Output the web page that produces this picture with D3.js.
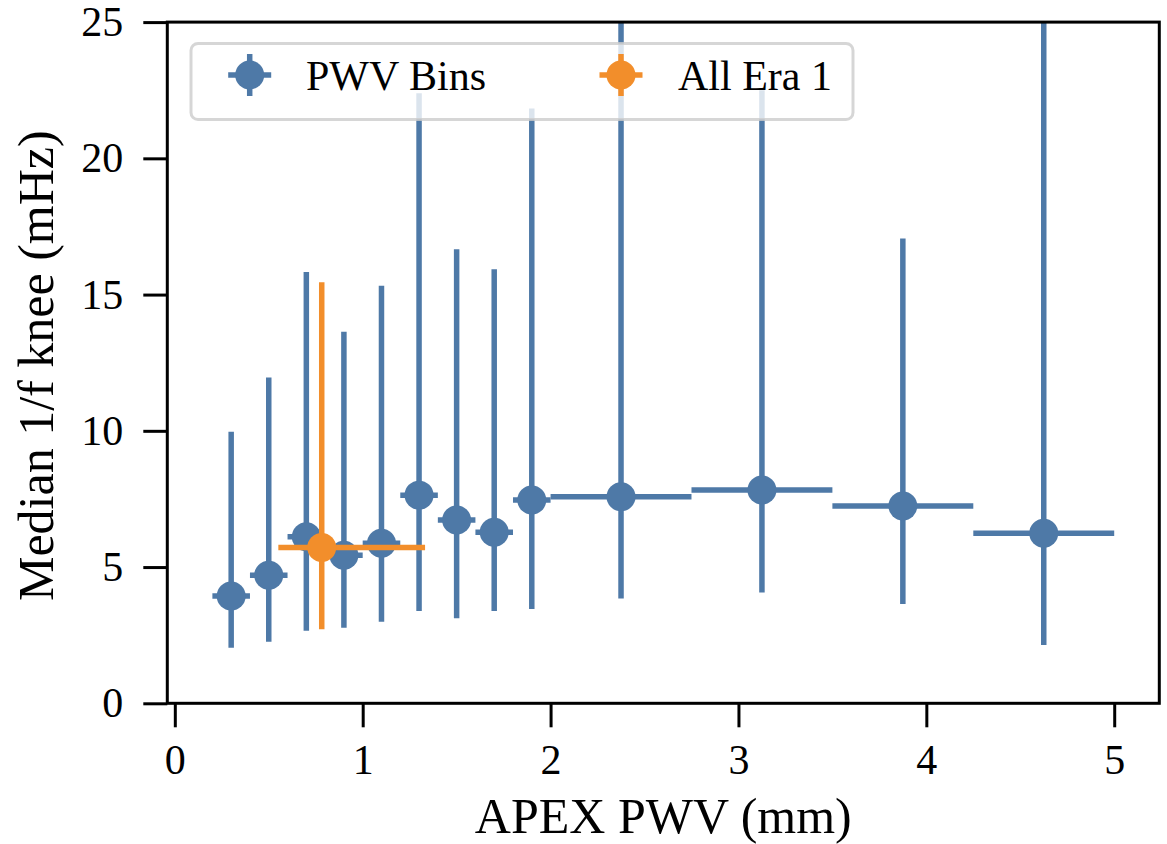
<!DOCTYPE html>
<html>
<head>
<meta charset="utf-8">
<script src="https://cdn.jsdelivr.net/npm/d3@7"></script>
<style>
  html, body { margin: 0; padding: 0; background: #fff; }
  svg { display: block; }
  text { font-family: "Liberation Serif", "DejaVu Serif", serif; fill: #000; }
</style>
</head>
<body>
<svg id="chart" width="1167" height="844"></svg>
<script>
// ---------- data ----------
const binCenters = [0.3, 0.5, 0.7, 0.9, 1.1, 1.3, 1.5, 1.7, 1.9, 2.375, 3.125, 3.875, 4.625];
const binLow     = [0.2, 0.4, 0.6, 0.8, 1.0, 1.2, 1.4, 1.6, 1.8, 2.0, 2.75, 3.5, 4.25];
const binHigh    = [0.4, 0.6, 0.8, 1.0, 1.2, 1.4, 1.6, 1.8, 2.0, 2.75, 3.5, 4.25, 5.0];
const medianKnee = [3.94, 4.70, 6.11, 5.43, 5.87, 7.64, 6.73, 6.28, 7.46, 7.58, 7.83, 7.24, 6.24];
const kneeLow    = [2.04, 2.26, 2.66, 2.77, 2.99, 3.39, 3.12, 3.39, 3.46, 3.85, 4.07, 3.64, 2.14];
const kneeHigh   = [9.97, 11.96, 15.83, 13.64, 15.32, 22.39, 16.66, 15.93, 21.83, 27.0, 22.5, 17.06, 27.0];

const allX = [0.782], allXLow = [0.551], allXHigh = [1.332];
const allY = [5.72], allYLow = [2.72], allYHigh = [15.45];

const xTicks = [0, 1, 2, 3, 4, 5];
const yTicks = [0, 5, 10, 15, 20, 25];
const seriesNames = ["PWV Bins", "All Era 1"];
const xLabel = "APEX PWV (mm)";
const yLabel = "Median 1/f knee (mHz)";

// ---------- layout ----------
const BLUE = "#4e79a7", ORANGE = "#f28e2b";
const L = 167.3, R = 1159.3, T = 22.1, B = 703.3;
const svg = d3.select("#chart");

const x = d3.scaleLinear().domain([-0.04, 5.24]).range([L, R]);
const y = d3.scaleLinear().domain([0, 25]).range([B, T]);

svg.append("defs").append("clipPath").attr("id", "clip")
  .append("rect").attr("x", L).attr("y", T - 0.5).attr("width", R - L).attr("height", B - T + 0.5);

const plot = svg.append("g").attr("clip-path", "url(#clip)");

function drawSeries(g, cx, xlo, xhi, cy, ylo, yhi, color) {
  const data = cx.map((d, i) => ({x: d, xl: xlo[i], xh: xhi[i], y: cy[i], yl: ylo[i], yh: yhi[i]}));
  const s = g.append("g");
  s.selectAll("line.v").data(data).join("line")
    .attr("x1", d => x(d.x)).attr("x2", d => x(d.x))
    .attr("y1", d => y(d.yl)).attr("y2", d => y(d.yh))
    .attr("stroke", color).attr("stroke-width", 5.5);
  s.selectAll("line.h").data(data).join("line")
    .attr("x1", d => x(d.xl)).attr("x2", d => x(d.xh))
    .attr("y1", d => y(d.y)).attr("y2", d => y(d.y))
    .attr("stroke", color).attr("stroke-width", 5.5);
  s.selectAll("circle").data(data).join("circle")
    .attr("cx", d => x(d.x)).attr("cy", d => y(d.y)).attr("r", 14.5)
    .attr("fill", color);
}
drawSeries(plot, binCenters, binLow, binHigh, medianKnee, kneeLow, kneeHigh, BLUE);
drawSeries(plot, allX, allXLow, allXHigh, allY, allYLow, allYHigh, ORANGE);

// ---------- axes ----------
const xAxis = svg.append("g").attr("transform", `translate(0,${B})`)
  .call(d3.axisBottom(x).tickValues(xTicks).tickFormat(d3.format("d")).tickSize(24).tickPadding(17));
const yAxis = svg.append("g").attr("transform", `translate(${L},0)`)
  .call(d3.axisLeft(y).tickValues(yTicks).tickFormat(d3.format("d")).tickSize(24).tickPadding(20));
[xAxis, yAxis].forEach(a => {
  a.select(".domain").remove();
  a.selectAll(".tick line").attr("stroke", "#000").attr("stroke-width", 3);
  a.selectAll(".tick text").style("font-family", "'Liberation Serif', serif").style("font-size", "42px").attr("fill", "#000");
});

// frame
svg.append("rect").attr("x", L).attr("y", T).attr("width", R - L).attr("height", B - T)
  .attr("fill", "none").attr("stroke", "#000").attr("stroke-width", 3);

// axis labels
svg.append("text").attr("x", (L + R) / 2).attr("y", 833).attr("text-anchor", "middle")
  .style("font-size", "50px").text(xLabel);
svg.append("text").attr("transform", `translate(53,${(T + B) / 2 + 3}) rotate(-90)`)
  .attr("text-anchor", "middle").style("font-size", "50px").text(yLabel);

// ---------- legend ----------
const leg = svg.append("g");
leg.append("rect").attr("x", 191).attr("y", 43.5).attr("width", 662).attr("height", 76).attr("rx", 7)
  .attr("fill", "#fff").attr("fill-opacity", 0.8)
  .attr("stroke", "#cccccc").attr("stroke-opacity", 0.8).attr("stroke-width", 3);
const legItems = [
  {name: seriesNames[0], color: BLUE, mx: 249.7, tx: 306},
  {name: seriesNames[1], color: ORANGE, mx: 621, tx: 678}
];
legItems.forEach(it => {
  const g = leg.append("g");
  g.append("line").attr("x1", it.mx - 21.5).attr("x2", it.mx + 21.5).attr("y1", 75).attr("y2", 75)
    .attr("stroke", it.color).attr("stroke-width", 5.5);
  g.append("line").attr("x1", it.mx).attr("x2", it.mx).attr("y1", 54).attr("y2", 96)
    .attr("stroke", it.color).attr("stroke-width", 5.5);
  g.append("circle").attr("cx", it.mx).attr("cy", 75).attr("r", 14.5).attr("fill", it.color);
  g.append("text").attr("x", it.tx).attr("y", 90).style("font-size", "42px").text(it.name);
});
</script>
</body>
</html>
